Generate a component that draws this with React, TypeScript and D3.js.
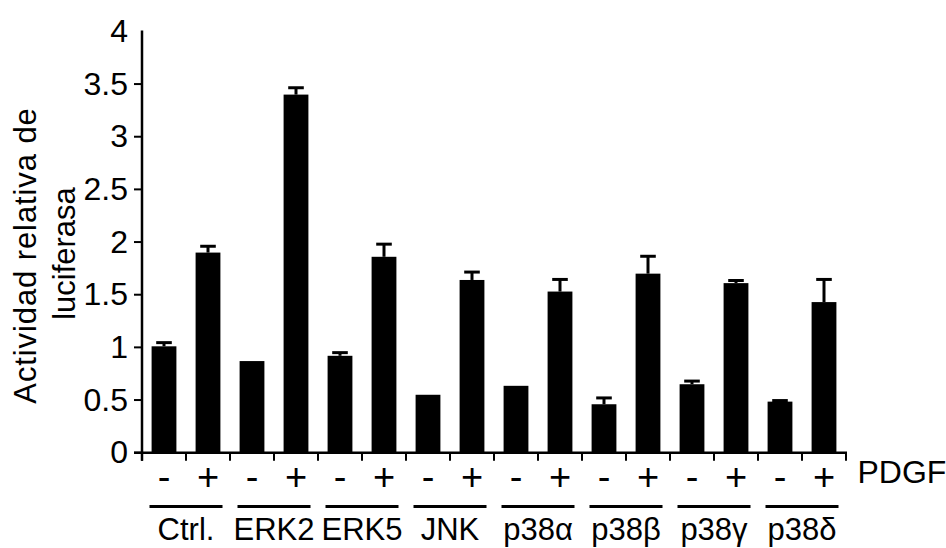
import React from 'react';
import * as d3 from 'd3';

// PDGF luciferase assay, one pair of bars (- / +) per kinase
const groups = ['Ctrl.', 'ERK2', 'ERK5', 'JNK', 'p38α', 'p38β', 'p38γ', 'p38δ'];
const treatments = ['-', '+'];
const valuesMinus = [1.01, 0.87, 0.92, 0.55, 0.635, 0.46, 0.65, 0.485];
const errorsMinus = [0.035, 0, 0.03, 0, 0, 0.06, 0.03, 0.01];
const valuesPlus = [1.9, 3.4, 1.86, 1.64, 1.53, 1.7, 1.61, 1.43];
const errorsPlus = [0.06, 0.065, 0.12, 0.075, 0.115, 0.165, 0.025, 0.215];
const yTicks = [0, 0.5, 1, 1.5, 2, 2.5, 3, 3.5, 4];
const yTickLabels = ['0', '0.5', '1', '1.5', '2', '2.5', '3', '3.5', '4'];

const width = 946;
const height = 548;
const font = "'Liberation Sans', Arial, sans-serif";

function App() {
    const bars = groups.flatMap((g, i) => [
        {key: g + '|-', group: g, t: treatments[0], value: valuesMinus[i], err: errorsMinus[i]},
        {key: g + '|+', group: g, t: treatments[1], value: valuesPlus[i], err: errorsPlus[i]}
    ]);

    const x = d3
        .scaleBand()
        .domain(bars.map((d) => d.key))
        .range([142, 846])
        .paddingInner(0.436)
        .paddingOuter(0.218);

    const y = d3.scaleLinear().domain([0, 4]).range([452.7, 31.4]);

    const step = x.step();
    const bw = x.bandwidth();
    const y0 = y(0);
    const capHalf = 7.8;

    // cell boundaries for the little ticks under the x axis
    const boundaries = d3.range(bars.length + 1).map((i) => 142 + i * step);

    return (
        <svg width={width} height={height} style={{position: 'absolute', left: 0, top: 0}}
             fontFamily={font}>
            <rect width={width} height={height} fill="#fff"/>

            {/* bars */}
            {bars.map((d) => (
                <rect key={d.key} x={x(d.key)} y={y(d.value)} width={bw}
                      height={y0 - y(d.value)} fill="#000"/>
            ))}

            {/* error bars, upper half only */}
            {bars.filter((d) => d.err > 0).map((d) => {
                const cx = x(d.key) + bw / 2;
                return (
                    <g key={'e' + d.key} stroke="#000" strokeWidth={3}>
                        <line x1={cx} x2={cx} y1={y(d.value)} y2={y(d.value + d.err)}/>
                        <line x1={cx - capHalf} x2={cx + capHalf}
                              y1={y(d.value + d.err)} y2={y(d.value + d.err)}/>
                    </g>
                );
            })}

            {/* y axis */}
            <line x1={142} x2={142} y1={y(4) - 1} y2={y0 + 8} stroke="#000" strokeWidth={2.5}/>
            {yTicks.filter((t) => t < 4).map((t) => (
                <line key={'yt' + t} x1={134} x2={142} y1={y(t)} y2={y(t)} stroke="#000" strokeWidth={2}/>
            ))}
            {yTicks.map((t, i) => (
                <text key={'yl' + t} x={128} y={y(t)} dy="0.33em" textAnchor="end" fontSize={32}>
                    {yTickLabels[i]}
                </text>
            ))}

            {/* x axis */}
            <line x1={134} x2={847} y1={y0} y2={y0} stroke="#000" strokeWidth={2.5}/>
            {boundaries.map((b, i) => (
                <line key={'xt' + i} x1={b} x2={b} y1={y0} y2={y0 + 8} stroke="#000" strokeWidth={2}/>
            ))}

            {/* - / + row */}
            {bars.map((d) => (
                <text key={'t' + d.key} x={x(d.key) + bw / 2} y={490} textAnchor="middle" fontSize={38}>
                    {d.t}
                </text>
            ))}
            <text x={857.5} y={483} fontSize={32}>PDGF</text>

            {/* group underlines and names */}
            {groups.map((g, i) => {
                const cx = 142 + step * (2 * i + 1);
                return (
                    <g key={'g' + g}>
                        <line x1={cx - 36.5} x2={cx + 36.5} y1={506.5} y2={506.5} stroke="#000" strokeWidth={2.8}/>
                        <text x={cx} y={540} textAnchor="middle" fontSize={31}>{g}</text>
                    </g>
                );
            })}

            {/* y title */}
            <text transform="translate(36,255.5) rotate(-90)" textAnchor="middle" fontSize={31}
                  letterSpacing={0.9}>
                Actividad relativa de
            </text>
            <text transform="translate(75,253.5) rotate(-90)" textAnchor="middle" fontSize={31}>
                luciferasa
            </text>
        </svg>
    );
}

export default App;
